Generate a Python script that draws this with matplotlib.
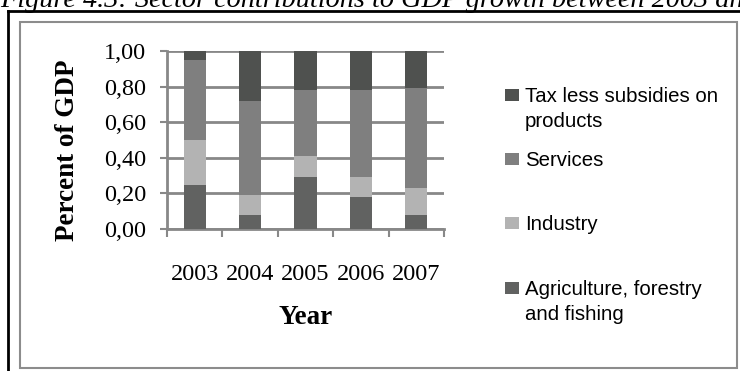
import matplotlib.pyplot as plt
import matplotlib.ticker as mticker
from matplotlib.patches import Rectangle
from matplotlib.lines import Line2D
import numpy as np

# shares of GDP growth by sector
years = ['2003', '2004', '2005', '2006', '2007']
agriculture = [0.25, 0.08, 0.29, 0.18, 0.08]
industry = [0.25, 0.11, 0.12, 0.11, 0.15]
services = [0.45, 0.53, 0.37, 0.49, 0.56]
tax = [0.05, 0.28, 0.22, 0.22, 0.21]

series = [
    ('Agriculture, forestry\nand fishing', agriculture, '#616261'),
    ('Industry', industry, '#b3b3b3'),
    ('Services', services, '#7f7f7f'),
    ('Tax less subsidies on\nproducts', tax, '#4f514f'),
]

W, H = 740, 371
fig = plt.figure(figsize=(W / 100, H / 100), dpi=100)

def fx(px):
    return px / W

def fy(py):
    return 1 - py / H

ax = fig.add_axes([fx(167), fy(229), fx(444) - fx(167), fy(51) - fy(229)])

x = np.arange(len(years))
bottom = np.zeros(len(years))
for name, vals, col in series:
    ax.bar(x, vals, width=0.4, bottom=bottom, color=col, zorder=3)
    bottom += np.array(vals)

grid_col = '#888888'
ax.set_ylim(0, 1)
ax.set_xlim(-0.5, len(years) - 0.5)
ax.set_yticks(np.arange(0, 1.01, 0.2))
ax.yaxis.set_major_formatter(mticker.FuncFormatter(lambda v, p: f'{v:.2f}'.replace('.', ',')))
ax.yaxis.grid(True, color=grid_col, lw=2, zorder=0)
ax.set_axisbelow(True)

# category boundary ticks with labels in between
ax.set_xticks(np.arange(-0.5, len(years), 1))
ax.set_xticklabels([])
ax.set_xticks(x, minor=True)
ax.set_xticklabels(years, minor=True)
ax.tick_params(axis='x', which='major', length=6, width=1.5, color=grid_col, direction='out')
ax.tick_params(axis='x', which='minor', length=0, pad=25)
ax.tick_params(axis='y', length=5, width=1.5, color=grid_col, pad=10)

for lab in ax.get_xticklabels(minor=True) + ax.get_yticklabels():
    lab.set_family('Liberation Serif')
    lab.set_fontsize(17.5)

for s in ['top', 'right']:
    ax.spines[s].set_visible(False)
ax.spines['left'].set_color(grid_col)
ax.spines['left'].set_linewidth(2)
ax.spines['bottom'].set_color(grid_col)
ax.spines['bottom'].set_linewidth(2)

fig.text(fx(68), fy(150), 'Percent of GDP', rotation=90, ha='center', va='center',
         family='Liberation Serif', fontsize=19.5, fontweight='bold')
fig.text(fx(306), fy(318), 'Year', ha='center', va='center',
         family='Liberation Serif', fontsize=19.5, fontweight='bold')

# legend drawn by hand, top entry first
legend_rows = [(3, 95), (2, 159), (1, 223), (0, 288)]
for idx, cy in legend_rows:
    name, vals, col = series[idx]
    fig.patches.append(Rectangle((fx(505), fy(cy + 6)), fx(14), fy(cy - 6) - fy(cy + 6),
                                 transform=fig.transFigure, facecolor=col, edgecolor='none'))
    fig.text(fx(525), fy(cy - 8), name, ha='left', va='top', family='Liberation Sans',
             fontsize=14.7, linespacing=1.4)

# chart frame and outer box
fig.patches.append(Rectangle((fx(20), fy(368)), fx(737) - fx(20), fy(22) - fy(368),
                             transform=fig.transFigure, facecolor='none',
                             edgecolor='#8c8c8c', lw=1.5))
fig.lines.append(Line2D([fx(8), 1.0], [fy(11), fy(11)], transform=fig.transFigure,
                        color='black', lw=2))
fig.lines.append(Line2D([fx(8), fx(8)], [fy(11), 0], transform=fig.transFigure,
                        color='black', lw=2))

# caption cut off at the top edge
fig.text(0, fy(7), 'Figure 4.3: Sector contributions to GDP growth between 2003 and 2007',
         ha='left', va='baseline', family='Liberation Serif', style='italic', fontsize=20.3)

fig.savefig('out.png', dpi=100)
